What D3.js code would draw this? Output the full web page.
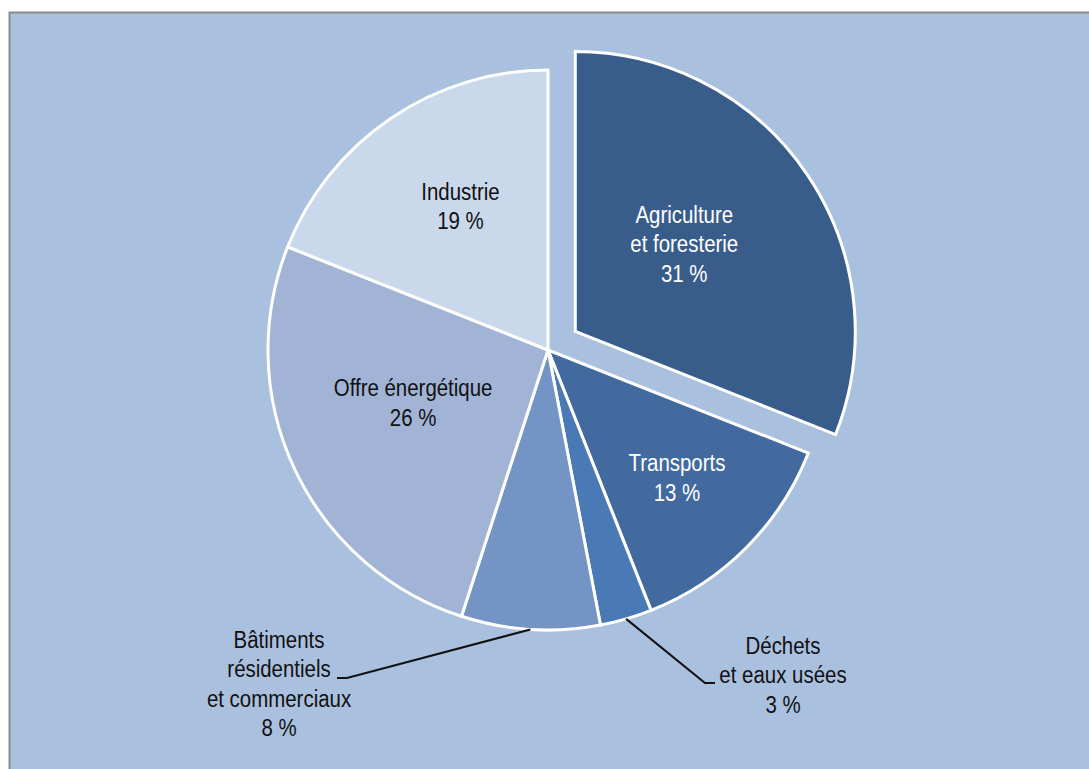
<!DOCTYPE html>
<html>
<head>
<meta charset="utf-8">
<script src="https://cdn.jsdelivr.net/npm/d3@7"></script>
<style>
  html, body { margin: 0; padding: 0; background: #ffffff; }
  svg { display: block; }
  text { font-family: "Liberation Sans", Arial, sans-serif; }
</style>
</head>
<body>
<svg id="chart" width="1089" height="769"></svg>
<script>
// Émissions par secteur (%)
const categories = [
  ["Agriculture", "et foresterie"],
  ["Transports"],
  ["Déchets", "et eaux usées"],
  ["Bâtiments", "résidentiels", "et commerciaux"],
  ["Offre énergétique"],
  ["Industrie"]
];
const values = [31, 13, 3, 8, 26, 19];
const valueLabels = ["31 %", "13 %", "3 %", "8 %", "26 %", "19 %"];
const colors = ["#385d8a", "#426a9f", "#4a7ab5", "#7394c4", "#a1b4d6", "#cad8eb"];
const textColors = ["#ffffff", "#ffffff", "#111111", "#111111", "#111111", "#111111"];
const exploded = [true, false, false, false, false, false];

const W = 1089, H = 769;
const cx = 548, cy = 350, R = 280, explode = 33;
const lineH = 29.3;
const fontSize = 23.5, narrow = 0.87;

const svg = d3.select("#chart");

// chart frame
svg.append("rect")
  .attr("x", 9.5).attr("y", 12.5)
  .attr("width", W + 10).attr("height", H + 10)
  .attr("fill", "#aac0df")
  .attr("stroke", "#8c8c8c").attr("stroke-width", 2);

const pie = d3.pie().sort(null).value(d => d)(values);
const arc = d3.arc().innerRadius(0).outerRadius(R);

const g = svg.append("g").attr("transform", `translate(${cx},${cy})`);

function offsetOf(d, i) {
  if (!exploded[i]) return [0, 0];
  const a = (d.startAngle + d.endAngle) / 2;
  return [Math.sin(a) * explode, -Math.cos(a) * explode];
}

g.selectAll("path.slice")
  .data(pie)
  .join("path")
  .attr("class", "slice")
  .attr("d", arc)
  .attr("transform", (d, i) => { const o = offsetOf(d, i); return `translate(${o[0]},${o[1]})`; })
  .attr("fill", (d, i) => colors[i])
  .attr("stroke", "#ffffff")
  .attr("stroke-width", 3)
  .attr("stroke-linejoin", "miter");

// labels inside the slices: radius along the mid-angle plus a small nudge
const inside = {
  0: { r: 172, dx: -6, dy: -9 },
  1: { r: 181, dx: 1, dy: 0 },
  4: { r: 148, dx: -1, dy: -10 },
  5: { r: 170, dx: 8, dy: -3 }
};
// labels outside with leader lines: elbow, end and first baseline of the text
const outside = {
  2: { elbow: [705, 683], end: [715, 683], text: [783, 654] },
  3: { elbow: [347, 678], end: [337, 678], text: [279, 648] }
};

pie.forEach((d, i) => {
  const lines = categories[i].concat([valueLabels[i]]);
  let tx, ty;
  if (inside[i] !== undefined) {
    const s = inside[i];
    const a = (d.startAngle + d.endAngle) / 2;
    tx = cx + Math.sin(a) * s.r + s.dx;
    ty = cy - Math.cos(a) * s.r + s.dy;
    ty = ty - (lines.length - 1) * lineH / 2 + 8;
  } else {
    const o = outside[i];
    const a = (d.startAngle + d.endAngle) / 2;
    const p0 = [cx + Math.sin(a) * R, cy - Math.cos(a) * R];
    svg.append("polyline")
      .attr("points", [p0, o.elbow, o.end].map(p => p.join(",")).join(" "))
      .attr("fill", "none")
      .attr("stroke", "#111111")
      .attr("stroke-width", 2);
    tx = o.text[0];
    ty = o.text[1];
  }
  const t = svg.append("text")
    .attr("transform", `translate(${tx},${ty}) scale(${narrow},1)`)
    .attr("text-anchor", "middle")
    .attr("font-size", fontSize)
    .attr("fill", textColors[i]);
  lines.forEach((s, k) => {
    t.append("tspan").attr("x", 0).attr("y", k * lineH).text(s);
  });
});
</script>
</body>
</html>
